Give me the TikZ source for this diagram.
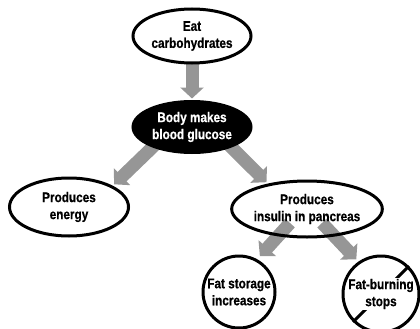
\documentclass[tikz,border=0pt]{standalone}
\usepackage{fontspec}
\setmainfont[FakeStretch=0.84,FakeBold=0.6]{Liberation Sans}
\usetikzlibrary{shapes.geometric,arrows.meta,calc,backgrounds}
\definecolor{arrowgray}{RGB}{150,150,150}
\tikzset{
  txt/.style={font=\fontsize{14}{17}\selectfont\bfseries, align=center},
  oval/.style={ellipse, draw, line width=3pt, inner sep=0pt, txt},
  blackoval/.style={oval, fill=black, text=white},
  ring/.style={circle, draw, line width=3pt, inner sep=0pt, txt},
  bigarrow/.style={draw=arrowgray, line width=13pt, -{Triangle[width=23pt,length=11pt]}},
}
\begin{document}
\begin{tikzpicture}[x=1pt,y=-1pt]
\useasboundingbox (0,0) rectangle (420,329);
\node[oval, minimum width=118pt, minimum height=54pt] (topE) at (192,36) {Eat\\carbohydrates};
\node[blackoval, minimum width=118pt, minimum height=51pt] (blk) at (192,127) {Body makes\\blood glucose};
\node[oval, minimum width=119pt, minimum height=58pt] (left) at (69,207) {Produces\\energy};
\node[oval, minimum width=116pt, minimum height=56pt] (ins) at (307,209) {Produces\\insulin in pancreas};
\node[ring, minimum size=72pt] (fatS) at (239,292) {Fat storage\\increases};
\node[ring, minimum size=76pt] (fatB) at (381,294) {};
\begin{scope}[on background layer]
\draw[bigarrow, shorten >=1.5pt] (topE.south) -- (blk.north);
\draw[bigarrow, shorten >=2pt] ($(blk)+(-32,13)$) -- (left.26);
\draw[bigarrow, shorten >=2pt] ($(blk)+(32,13)$) -- (ins.147);
\draw[bigarrow, shorten >=4pt] ($(ins)+(-17,14)$) -- (fatS.61);
\draw[bigarrow, shorten >=3pt] ($(ins)+(15,14)$) -- (fatB.125);
\draw[line width=3pt] (fatB.225) -- (fatB.45);
\node[txt, fill=white, inner xsep=0pt, inner ysep=1pt] (fatBt) at (fatB.center) {Fat-burning\\stops};
\end{scope}
\end{tikzpicture}
\end{document}
